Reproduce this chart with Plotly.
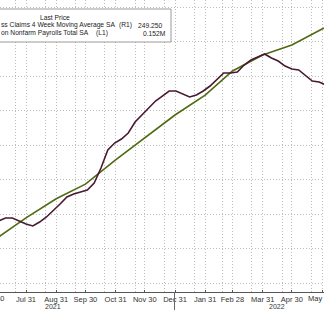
import plotly.graph_objects as go
import pandas as pd

# ---- data ----
claims_start = "2021-07-03"   # weekly (Saturdays)
claims_4wk = [409.6, 405.3, 405.3, 409.6, 414.0, 416.8, 411.1, 403.8, 395.1, 385.0,
              374.9, 370.5, 367.7, 364.8, 354.6, 332.9, 306.9, 296.8, 291.0, 282.3,
              266.4, 256.3, 246.1, 236.0, 228.8, 221.5, 221.5, 225.9, 230.2, 227.3,
              221.5, 214.3, 204.2, 195.5, 195.5, 194.0, 183.9, 176.7, 172.3, 168.0,
              173.8, 178.1, 185.4, 189.7, 191.1, 199.8, 207.1, 208.5, 212.9]
payroll_dates = ["2021-06-30", "2021-07-31", "2021-08-31", "2021-09-30", "2021-10-31",
                 "2021-11-30", "2021-12-31", "2022-01-31", "2022-02-28", "2022-03-31",
                 "2022-04-30", "2022-05-31", "2022-06-30"]
payrolls = [146.03, 146.52, 146.96, 147.30, 147.86, 148.37, 148.90, 149.36, 149.92,
            150.29, 150.52, 150.89, 151.17]

tick_dates = ["2021-07-31", "2021-08-31", "2021-09-30", "2021-10-31", "2021-11-30",
              "2021-12-31", "2022-01-31", "2022-02-28", "2022-03-31", "2022-04-30",
              "2022-05-31"]
tick_text = ["Jul 31", "Aug 31", "Sep 30", "Oct 31", "Nov 30", "Dec 31", "Jan 31",
             "Feb 28", "Mar 31", "Apr 30", ""]
minor_dates = ["2021-07-20", "2021-08-20", "2021-09-20", "2021-10-20", "2021-11-20",
               "2021-12-20", "2022-01-20", "2022-02-18", "2022-03-20", "2022-04-20",
               "2022-05-20"]
left_grid = [145.0, 145.8, 146.6, 147.4, 148.2, 149.0, 149.8, 150.6, 151.4]

claims_dates = pd.date_range(claims_start, periods=len(claims_4wk), freq="7D")

W, H_PLOT = 324, 292
def X(px):
    return px / W
def Y(py):
    return 1 - py / H_PLOT

MAROON = "#4a1830"
GREEN = "#4f6a12"
FONT = "Liberation Sans"
GRID = "#bdbdbd"
DASH = "1px,2px"

fig = go.Figure()
fig.add_trace(go.Scatter(x=payroll_dates, y=payrolls, mode="lines",
                         line=dict(color=GREEN, width=1.6), yaxis="y", showlegend=False))
fig.add_trace(go.Scatter(x=claims_dates, y=claims_4wk, mode="lines",
                         line=dict(color=MAROON, width=1.6), yaxis="y2", showlegend=False))

fig.update_layout(
    width=324, height=310,
    margin=dict(l=0, r=0, t=0, b=18),
    paper_bgcolor="white", plot_bgcolor="white",
    font=dict(family=FONT, size=7, color="#333"),
    xaxis=dict(type="date", range=["2021-07-04 07:00", "2022-06-02"],
               tickmode="array", tickvals=tick_dates, ticktext=tick_text,
               showgrid=True, gridcolor=GRID, griddash=DASH, gridwidth=1,
               minor=dict(tickvals=minor_dates, showgrid=True, gridcolor=GRID,
                          griddash=DASH, gridwidth=1),
               showline=True, linecolor="#555", linewidth=1,
               ticks="inside", ticklen=2, tickcolor="#555",
               tickfont=dict(family=FONT, size=7.5, color="#333"),
               automargin=False, zeroline=False),
    yaxis=dict(range=[144.803, 151.562], tickmode="array", tickvals=left_grid,
               showticklabels=False, showgrid=True, gridcolor=GRID,
               griddash=DASH, gridwidth=1, zeroline=False, automargin=False),
    yaxis2=dict(range=[512.3, 89.87], overlaying="y", side="right",
                showticklabels=False, showgrid=False, zeroline=False, automargin=False),
)

# legend box
fig.add_shape(type="rect", xref="paper", yref="paper",
              x0=X(-2), x1=X(171), y0=Y(42), y1=Y(9),
              fillcolor="white", line=dict(color="#9a9a9a", width=1), layer="above")

def ann(text, px, py, anchor="left", size=6.7, color="#222"):
    fig.add_annotation(text=text, xref="paper", yref="paper", x=X(px), y=Y(py),
                       xanchor=anchor, yanchor="middle", showarrow=False,
                       font=dict(family=FONT, size=size, color=color))

ann("Last Price", 55, 17, "center")
ann("ss Claims 4 Week Moving Average SA", -1, 25.5)
ann("(R1)", 117, 25.5)
ann("249.250", 164, 25.5, "right")
ann("on Nonfarm Payrolls Total SA", -1, 33.5)
ann("(L1)", 94, 33.5)
ann("0.152M", 168, 33.5, "right")

# edge tick labels (cut by the frame) and year labels
ann("Jun 30", -7, 298, "center", size=7.5, color="#333")
ann("May 31", 320, 298, "center", size=7.5, color="#333")
ann("2021", 53, 306.5, "center", size=7, color="#333")
ann("2022", 277, 306.5, "center", size=7, color="#333")

# year divider below the axis
fig.add_shape(type="line", xref="x", yref="paper",
              x0="2021-12-30 12:00", x1="2021-12-30 12:00", y0=0, y1=Y(310),
              line=dict(color="#666", width=1))

fig.write_html("out.html")
